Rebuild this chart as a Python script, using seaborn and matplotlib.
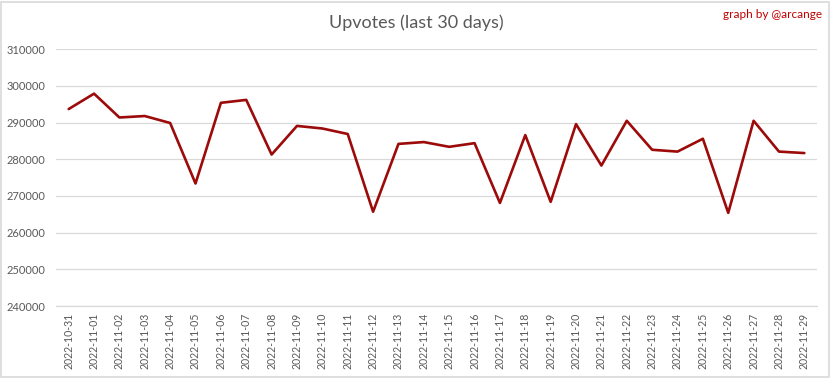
import matplotlib
matplotlib.use("Agg")
import matplotlib.pyplot as plt
import seaborn as sns
import pandas as pd
from matplotlib.patches import Rectangle

dates = [
    "2022-10-31", "2022-11-01", "2022-11-02", "2022-11-03", "2022-11-04",
    "2022-11-05", "2022-11-06", "2022-11-07", "2022-11-08", "2022-11-09",
    "2022-11-10", "2022-11-11", "2022-11-12", "2022-11-13", "2022-11-14",
    "2022-11-15", "2022-11-16", "2022-11-17", "2022-11-18", "2022-11-19",
    "2022-11-20", "2022-11-21", "2022-11-22", "2022-11-23", "2022-11-24",
    "2022-11-25", "2022-11-26", "2022-11-27", "2022-11-28", "2022-11-29",
]
upvotes = [
    293700, 297900, 291400, 291800, 289900,
    273400, 295400, 296200, 281300, 289100,
    288400, 286900, 265700, 284200, 284700,
    283400, 284400, 268100, 286600, 268400,
    289600, 278300, 290500, 282600, 282100,
    285600, 265400, 290500, 282100, 281700,
]
y_ticks = [240000, 250000, 260000, 270000, 280000, 290000, 300000, 310000]

sns.set_theme(style="white")
plt.rcParams["font.family"] = ["Lato", "DejaVu Sans"]

df = pd.DataFrame({"date": dates, "upvotes": upvotes})
df["pos"] = range(len(df))

fig = plt.figure(figsize=(8.32, 3.79), dpi=100)
ax = fig.add_axes([0.0673, 0.1926, 0.9147, 0.6774])

sns.lineplot(data=df, x="pos", y="upvotes", ax=ax, color="#9C0A0A",
             linewidth=1.9, zorder=3)

ax.set_xlim(-0.5, len(dates) - 0.5)
ax.set_ylim(y_ticks[0], y_ticks[-1])
ax.set_yticks(y_ticks)
ax.set_yticklabels([str(v) for v in y_ticks], fontsize=8, color="#595959")
ax.set_xticks(list(df["pos"]))
ax.set_xticklabels(dates, rotation=90, fontsize=7.6, color="#595959")
ax.tick_params(axis="both", length=0)
ax.tick_params(axis="y", pad=7.5)
ax.tick_params(axis="x", pad=5)
ax.set_xlabel("")
ax.set_ylabel("")

ax.grid(axis="y", color="#D9D9D9", linewidth=0.9)
ax.grid(axis="x", visible=False)
for side in ("top", "right", "left"):
    ax.spines[side].set_visible(False)
ax.spines["bottom"].set_color("#D9D9D9")
ax.spines["bottom"].set_linewidth(0.9)

fig.text(0.5, 0.94, "Upvotes (last 30 days)", ha="center", va="center",
         fontsize=13, color="#595959")
fig.text(0.988, 0.962, "graph by @arcange", ha="right", va="center",
         fontsize=8.5, color="#C00000")

fig.patches.append(Rectangle((0.0015, 0.004), 0.995, 0.992,
                             transform=fig.transFigure, fill=False,
                             edgecolor="#D9D9D9", linewidth=1.2))

fig.savefig("out.png", dpi=100, facecolor="white")
